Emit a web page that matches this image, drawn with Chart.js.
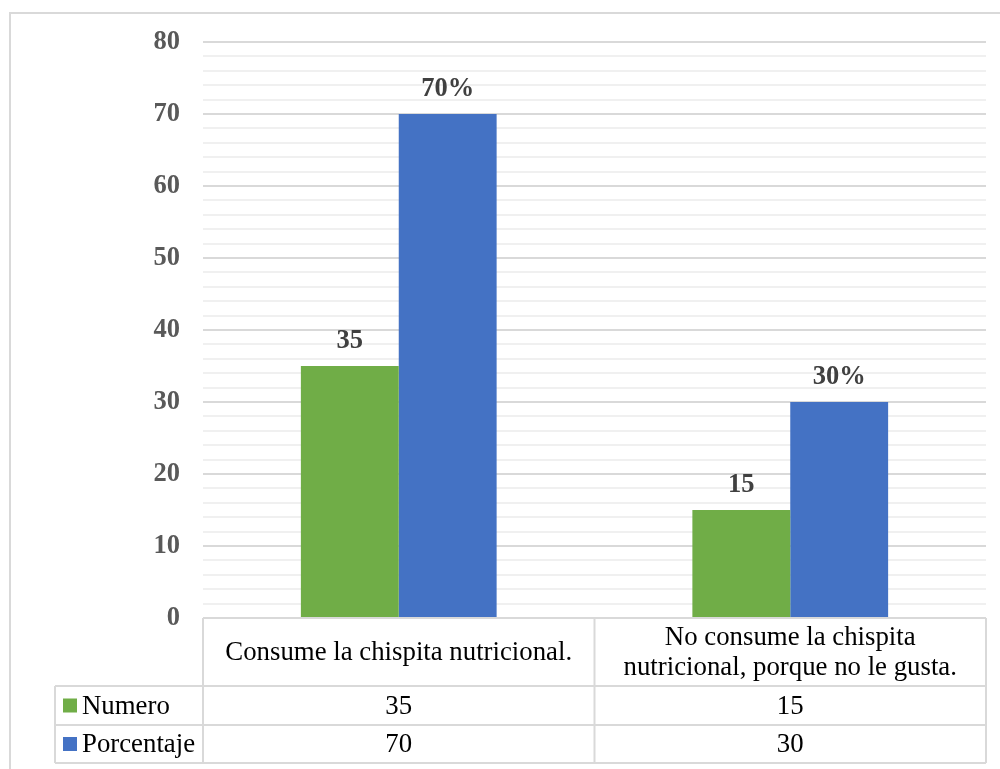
<!DOCTYPE html>
<html>
<head>
<meta charset="utf-8">
<script src="https://cdn.jsdelivr.net/npm/chart.js@4"></script>
<style>
  html, body { margin: 0; padding: 0; background: #ffffff; }
  #wrap { width: 1000px; height: 769px; }
</style>
</head>
<body>
<div id="wrap"><canvas id="c" width="1000" height="769"></canvas></div>
<script>
// Categories (header cells of the data table, split into lines)
const categories = [
  ['Consume la chispita nutricional.'],
  ['No consume la chispita', 'nutricional, porque no le gusta.']
];
const seriesNames = ['Numero', 'Porcentaje'];
const numero = [35, 15];
const porcentaje = [70, 30];
const yTicks = [0, 10, 20, 30, 40, 50, 60, 70, 80];

const GREEN = '#70AD47';
const BLUE = '#4472C4';
const SERIF = "'Liberation Serif', 'Times New Roman', serif";
const LINE = '#d9d9d9';

// Outer frame of the chart
const framePlugin = {
  id: 'frame',
  beforeDraw(chart) {
    const ctx = chart.ctx;
    ctx.save();
    ctx.strokeStyle = LINE;
    ctx.lineWidth = 2;
    ctx.strokeRect(10, 13, 1010, 780);
    ctx.restore();
  }
};

// Value labels above each bar
const valueLabels = {
  id: 'valueLabels',
  afterDatasetsDraw(chart) {
    const ctx = chart.ctx;
    ctx.save();
    ctx.font = 'bold 26.5px ' + SERIF;
    ctx.fillStyle = '#404040';
    ctx.textAlign = 'center';
    ctx.textBaseline = 'middle';
    chart.data.datasets.forEach((ds, di) => {
      const meta = chart.getDatasetMeta(di);
      meta.data.forEach((bar, i) => {
        const v = ds.data[i];
        const txt = di === 1 ? v + '%' : String(v);
        ctx.fillText(txt, bar.x, bar.y - 25);
      });
    });
    ctx.restore();
  }
};

// Data table under the plot
const dataTable = {
  id: 'dataTable',
  afterDraw(chart) {
    const ctx = chart.ctx;
    const xs = chart.scales.x;
    const area = chart.chartArea;
    const n = categories.length;
    const colW = (xs.right - xs.left) / n;
    const colEdges = [];
    for (let i = 0; i <= n; i++) colEdges.push(xs.left + colW * i);
    const legendLeft = 55;
    const headTop = area.bottom;
    const row1Top = headTop + 68;
    const row2Top = row1Top + 39;
    const bottom = row2Top + 38;

    ctx.save();
    ctx.strokeStyle = LINE;
    ctx.lineWidth = 2;
    ctx.beginPath();
    // horizontal lines
    ctx.moveTo(colEdges[0], headTop); ctx.lineTo(colEdges[n], headTop);
    ctx.moveTo(legendLeft, row1Top); ctx.lineTo(colEdges[n], row1Top);
    ctx.moveTo(legendLeft, row2Top); ctx.lineTo(colEdges[n], row2Top);
    ctx.moveTo(legendLeft, bottom); ctx.lineTo(colEdges[n], bottom);
    // vertical lines
    ctx.moveTo(legendLeft, row1Top); ctx.lineTo(legendLeft, bottom);
    colEdges.forEach(x => { ctx.moveTo(x, headTop); ctx.lineTo(x, bottom); });
    ctx.stroke();

    ctx.fillStyle = '#000000';
    ctx.font = '26.8px ' + SERIF;
    ctx.textAlign = 'center';
    ctx.textBaseline = 'middle';
    // header cells
    categories.forEach((lines, i) => {
      const cx = colEdges[i] + colW / 2;
      const cy = (headTop + row1Top) / 2 + 1;
      const lh = 30;
      const y0 = cy - (lines.length - 1) * lh / 2;
      lines.forEach((t, k) => ctx.fillText(t, cx, y0 + k * lh));
    });
    // value rows
    const rows = [numero, porcentaje];
    const colors = [GREEN, BLUE];
    const tops = [row1Top, row2Top];
    const bots = [row2Top, bottom];
    rows.forEach((vals, r) => {
      const cy = (tops[r] + bots[r]) / 2;
      vals.forEach((v, i) => {
        ctx.fillStyle = '#000000';
        ctx.textAlign = 'center';
        ctx.fillText(String(v), colEdges[i] + colW / 2, cy + 1);
      });
      // legend key + series name
      ctx.fillStyle = colors[r];
      ctx.fillRect(legendLeft + 8, cy - 7, 14, 14);
      ctx.fillStyle = '#000000';
      ctx.textAlign = 'left';
      ctx.fillText(seriesNames[r], legendLeft + 27, cy + 1);
    });
    ctx.restore();
  }
};

new Chart(document.getElementById('c'), {
  type: 'bar',
  data: {
    labels: categories,
    datasets: [
      { label: seriesNames[0], data: numero, backgroundColor: GREEN,
        categoryPercentage: 0.5, barPercentage: 1.0 },
      { label: seriesNames[1], data: porcentaje, backgroundColor: BLUE,
        categoryPercentage: 0.5, barPercentage: 1.0 }
    ]
  },
  options: {
    responsive: false,
    animation: false,
    devicePixelRatio: 1,
    layout: { padding: { left: 10, right: 14, top: 42, bottom: 151 } },
    plugins: { legend: { display: false }, tooltip: { enabled: false } },
    scales: {
      x: { display: false },
      y: {
        min: yTicks[0],
        max: yTicks[yTicks.length - 1],
        afterFit(s) { s.width = 193; },
        border: { display: false },
        grid: {
          drawTicks: false,
          lineWidth: 2,
          color: c => (c.tick && c.tick.value % 10 === 0) ? '#d9d9d9' : '#f0f0f0'
        },
        ticks: {
          stepSize: 2,
          autoSkip: false,
          padding: 23,
          color: '#595959',
          font: { family: SERIF, size: 26.5, weight: 'bold' },
          callback: v => yTicks.includes(v) ? String(v) : ''
        }
      }
    }
  },
  plugins: [framePlugin, valueLabels, dataTable]
});
</script>
</body>
</html>
